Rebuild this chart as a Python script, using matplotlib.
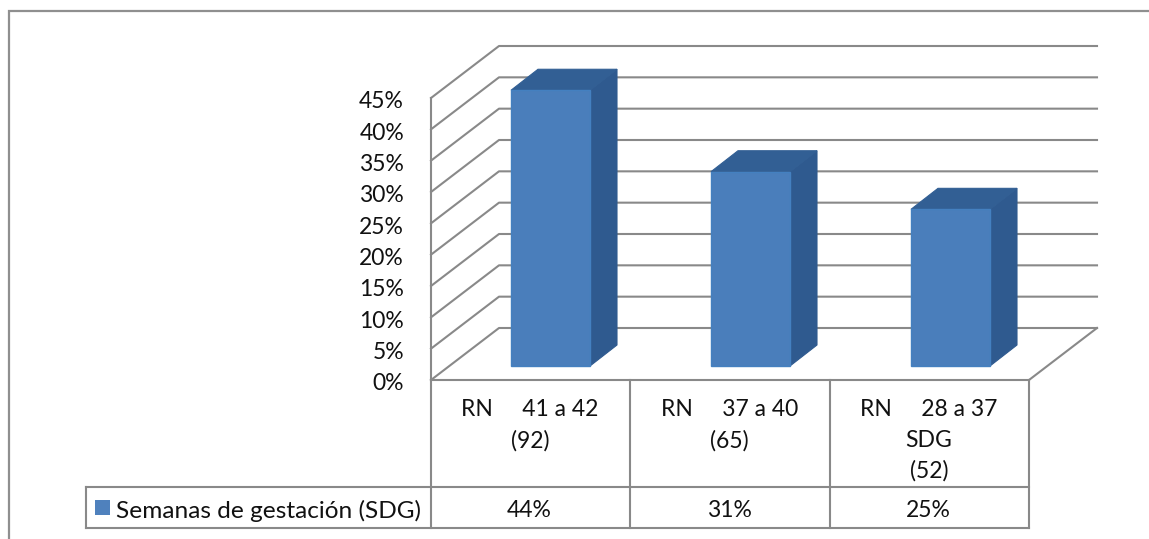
import matplotlib
matplotlib.use("Agg")
import matplotlib.pyplot as plt
from matplotlib.patches import Polygon, Rectangle

plt.rcParams['font.family'] = ['Lato', 'DejaVu Sans']

categories = ["RN     41 a 42\n(92)", "RN     37 a 40\n(65)", "RN     28 a 37\nSDG\n(52)"]
values = [44, 31, 25]
value_labels = ["44%", "31%", "25%"]
series_name = "Semanas de gestación (SDG)"
ticks = [0, 5, 10, 15, 20, 25, 30, 35, 40, 45]

W, H = 1149, 539
fig = plt.figure(figsize=(W / 100, H / 100), dpi=100, facecolor="white")
ax = fig.add_axes([0, 0, 1, 1])
ax.set_xlim(0, W)
ax.set_ylim(H, 0)
ax.axis("off")

GRID = "#898989"
TEXT = "#111111"
X0, X1, Y0 = 431, 1029, 380
DX, DY = 68, -52
PX_PER_UNIT = (380 - 98) / 45
SLOT = (X1 - X0) / 3
FS = 16.5


def y_of(v):
    return Y0 - v * PX_PER_UNIT


# chart frame: only the top and left edges fall inside the canvas
ax.plot([9, 9, W], [H, 11, 11], color="#8f8f8f", lw=1.6, solid_joinstyle="miter")

# floor, side wall and gridlines of the 3D box
for t in ticks:
    y = y_of(t)
    ax.plot([X0, X0 + DX, X1 + DX], [y, y + DY, y + DY], color=GRID, lw=1.5, zorder=1)
ax.plot([X0, X0], [y_of(45), Y0], color=GRID, lw=1.5, zorder=1)
ax.plot([X1, X1 + DX], [Y0, Y0 + DY], color=GRID, lw=1.5, zorder=1)

for t in ticks:
    ax.text(404, y_of(t) + 2, f"{t}%", ha="right", va="center_baseline", fontsize=FS, color=TEXT)

# bars: front face, top and side
BAR_W, BAR_DX, BAR_DY, BAR_STEP = 79, 27, -21, 200
for i, v in enumerate(values):
    left = 511 + i * BAR_STEP
    right = left + BAR_W
    base, top = 366, 366 - v * PX_PER_UNIT
    ax.add_patch(Polygon([(right, base), (right + BAR_DX, base + BAR_DY),
                          (right + BAR_DX, top + BAR_DY), (right, top)],
                         fc="#2f5a8f", ec="#2f5a8f", lw=0.8, zorder=3))
    ax.add_patch(Polygon([(left, top), (left + BAR_DX, top + BAR_DY),
                          (right + BAR_DX, top + BAR_DY), (right, top)],
                         fc="#325f94", ec="#325f94", lw=0.8, zorder=3))
    ax.add_patch(Rectangle((left, top), BAR_W, base - top, fc="#4a7ebb", ec="#4480c0", lw=1.0, zorder=4))

# data table under the plot
ROW1, ROW2 = 487, 528
LEG_X = 86
ax.plot([X0, X1], [Y0, Y0], color=GRID, lw=1.5, zorder=2)
ax.plot([LEG_X, X1], [ROW1, ROW1], color=GRID, lw=1.5)
ax.plot([LEG_X, X1], [ROW2, ROW2], color=GRID, lw=1.5)
ax.plot([LEG_X, LEG_X], [ROW1, ROW2], color=GRID, lw=1.5)
for i in range(4):
    x = X0 + i * SLOT
    ax.plot([x, x], [Y0, ROW2], color=GRID, lw=1.5)

for i, (c, lab) in enumerate(zip(categories, value_labels)):
    cx = X0 + (i + 0.5) * SLOT
    ax.text(cx - 0.5, 399, c, ha="center", va="top", fontsize=FS, color=TEXT, linespacing=1.56)
    ax.text(cx - 1, (ROW1 + ROW2) / 2 + 1, lab, ha="center", va="center_baseline", fontsize=FS, color=TEXT)

ax.add_patch(Rectangle((95, 500), 15, 15, fc="#4f81bd", ec="none"))
ax.text(116, (ROW1 + ROW2) / 2 + 1, series_name, ha="left", va="center_baseline", fontsize=17.6, color=TEXT)

fig.savefig("out.png", dpi=100)
